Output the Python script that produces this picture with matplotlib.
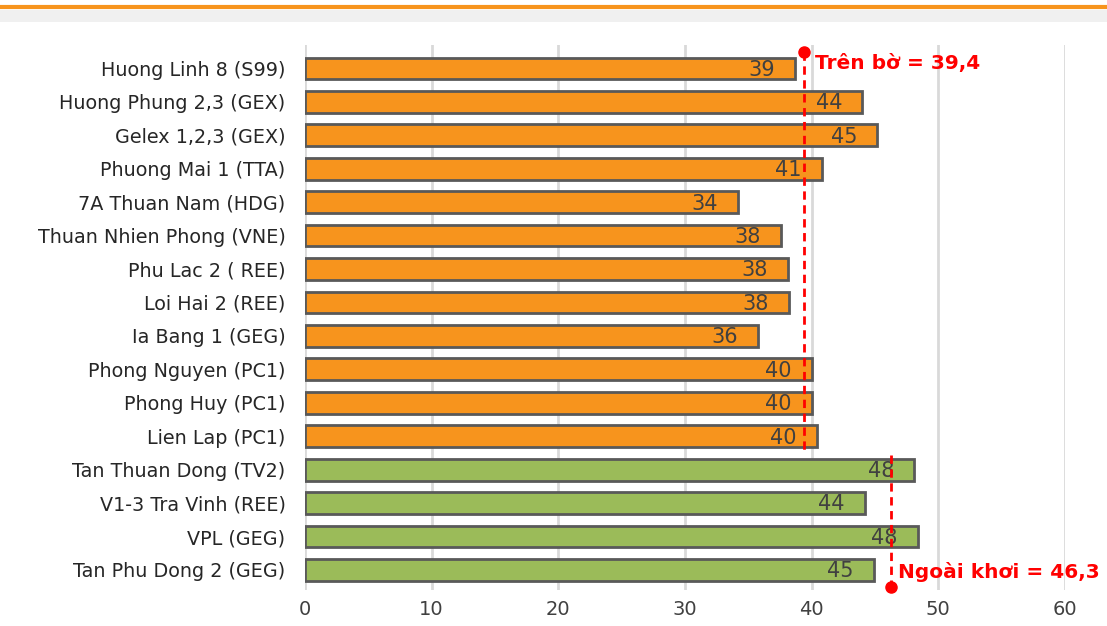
import matplotlib.pyplot as plt
from matplotlib.lines import Line2D
from matplotlib.patches import Rectangle

plants = ["Huong Linh 8 (S99)", "Huong Phung 2,3 (GEX)", "Gelex 1,2,3 (GEX)",
          "Phuong Mai 1 (TTA)", "7A Thuan Nam (HDG)", "Thuan Nhien Phong (VNE)",
          "Phu Lac 2 ( REE)", "Loi Hai 2 (REE)", "Ia Bang 1 (GEG)",
          "Phong Nguyen (PC1)", "Phong Huy (PC1)", "Lien Lap (PC1)",
          "Tan Thuan Dong (TV2)", "V1-3 Tra Vinh (REE)", "VPL (GEG)",
          "Tan Phu Dong 2 (GEG)"]
values = [38.7, 44.0, 45.2, 40.8, 34.2, 37.6, 38.1, 38.2, 35.8,
          40.0, 40.0, 40.4, 48.1, 44.2, 48.4, 44.9]
group = ["onshore"] * 12 + ["offshore"] * 4
avg_onshore = 39.4
avg_offshore = 46.3

colors = {"onshore": "#F7941D", "offshore": "#9BBB59"}

fig = plt.figure(figsize=(11.07, 6.26), dpi=100)
ax = fig.add_axes([0.2755, 0.0575, 0.6865, 0.8705])

y = list(range(len(plants)))
ax.barh(y, values, height=0.65, color=[colors[g] for g in group],
        edgecolor="#595959", linewidth=2, zorder=3)

for yi, v in zip(y, values):
    ax.annotate(f"{v:.0f}", (v, yi), xytext=(-14.5, -1), textcoords="offset points",
                ha="right", va="center", fontsize=15, color="#404040",
                family="DejaVu Sans", zorder=5)

# average lines
ax.plot([avg_onshore, avg_onshore], [-0.5, 11.5], color="red", ls=(0, (3, 2)),
        lw=2, zorder=6)
ax.plot([avg_onshore], [-0.5], "o", color="red", ms=8, zorder=6)
ax.text(avg_onshore + 0.9, -0.15, "Trên bờ = 39,4", color="red", fontsize=14.5,
        fontweight="bold", va="center", ha="left", family="DejaVu Sans")

ax.plot([avg_offshore, avg_offshore], [11.55, 15.5], color="red", ls=(0, (3, 2)),
        lw=2, zorder=6)
ax.plot([avg_offshore], [15.5], "o", color="red", ms=8, zorder=6, clip_on=False)
ax.text(avg_offshore + 0.5, 15.05, "Ngoài khơi = 46,3", color="red", fontsize=14.5,
        fontweight="bold", va="center", ha="left", family="DejaVu Sans", zorder=7)

ax.set_xlim(0, 60)
ax.set_ylim(15.6, -0.7)
ax.set_xticks(range(0, 61, 10))
ax.set_yticks(y)
ax.set_yticklabels(plants, fontsize=13.8, color="#262626", family="DejaVu Sans")
ax.tick_params(axis="x", labelsize=14, colors="#404040", length=0, pad=7)
ax.tick_params(axis="y", length=0, pad=14)
ax.grid(axis="x", color="#D9D9D9", lw=2, zorder=0)
for s in ax.spines.values():
    s.set_visible(False)

# header strip at top
fig.add_artist(Rectangle((0, 1 - 22 / 626), 1, 12 / 626, transform=fig.transFigure,
                         color="#F0F0F0", lw=0))
fig.add_artist(Line2D([0, 1], [1 - 7 / 626, 1 - 7 / 626], color="#F7941D", lw=3,
                      transform=fig.transFigure))

fig.savefig("out.png", dpi=100)
